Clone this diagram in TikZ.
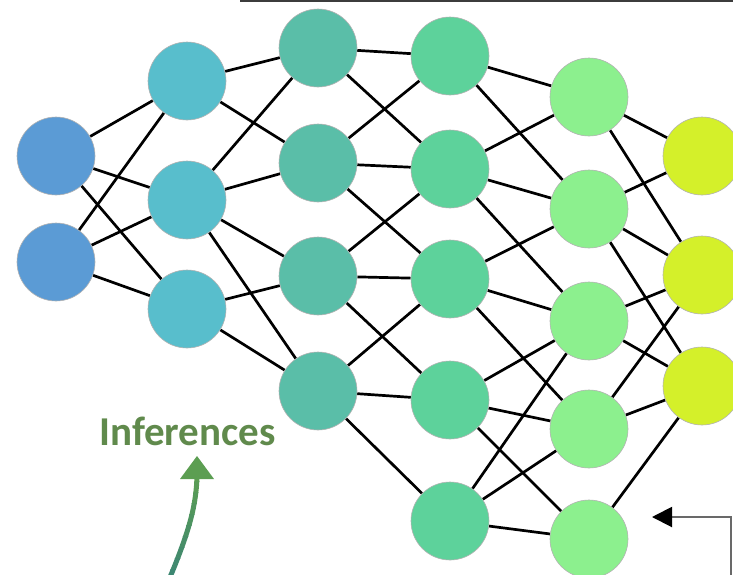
\documentclass[tikz,border=0pt]{standalone}
\usepackage{fontspec}
\setmainfont{Carlito}
\usetikzlibrary{arrows.meta}

% layer fill colours
\definecolor{layA}{RGB}{91,155,213}
\definecolor{layB}{RGB}{88,190,204}
\definecolor{layC}{RGB}{90,190,168}
\definecolor{layD}{RGB}{93,210,155}
\definecolor{layE}{RGB}{140,240,142}
\definecolor{layF}{RGB}{212,240,42}
\definecolor{infGreen}{RGB}{96,138,76}
\definecolor{arrTop}{RGB}{92,158,82}
\definecolor{arrBot}{RGB}{58,132,118}
\definecolor{frameGray}{RGB}{105,105,105}
\definecolor{rule}{RGB}{60,60,60}

\pgfdeclarelayer{bg}
\pgfsetlayers{bg,main}

\begin{document}
\begin{tikzpicture}[x=1pt,y=-1pt,
  neuron/.style={circle, minimum size=78pt, inner sep=0pt, draw=black!30, line width=0.6pt},
  link/.style={line width=2.7pt, black},
]
\useasboundingbox (0,0) rectangle (733,574);
\clip (0,0) rectangle (733,574);

% input layer
\node[neuron, fill=layA] (a1) at (56,156) {};
\node[neuron, fill=layA] (a2) at (56,262) {};
% hidden layer 1
\node[neuron, fill=layB] (b1) at (187,81) {};
\node[neuron, fill=layB] (b2) at (187,200) {};
\node[neuron, fill=layB] (b3) at (187,309) {};
% hidden layer 2
\node[neuron, fill=layC] (c1) at (318,48) {};
\node[neuron, fill=layC] (c2) at (318,163) {};
\node[neuron, fill=layC] (c3) at (318,276) {};
\node[neuron, fill=layC] (c4) at (318,391) {};
% hidden layer 3
\node[neuron, fill=layD] (d1) at (450,56) {};
\node[neuron, fill=layD] (d2) at (450,169) {};
\node[neuron, fill=layD] (d3) at (450,279) {};
\node[neuron, fill=layD] (d4) at (450,400) {};
\node[neuron, fill=layD] (d5) at (450,521) {};
% hidden layer 4
\node[neuron, fill=layE] (e1) at (589,97) {};
\node[neuron, fill=layE] (e2) at (589,209) {};
\node[neuron, fill=layE] (e3) at (589,321) {};
\node[neuron, fill=layE] (e4) at (589,429) {};
\node[neuron, fill=layE] (e5) at (589,539) {};
% output layer
\node[neuron, fill=layF] (f1) at (702,156) {};
\node[neuron, fill=layF] (f2) at (702,275) {};
\node[neuron, fill=layF] (f3) at (702,386) {};

% connections
\begin{pgfonlayer}{bg}
\foreach \s/\t in {a1/b1,a1/b2,a1/b3,a2/b1,a2/b2,a2/b3,
  b1/c1,b1/c2,b2/c1,b2/c2,b2/c3,b2/c4,b3/c3,b3/c4,
  c1/d1,c1/d2,c2/d1,c2/d2,c2/d3,c3/d2,c3/d3,c3/d4,c4/d3,c4/d4,c4/d5,
  d1/e1,d1/e2,d2/e1,d2/e2,d2/e3,d3/e2,d3/e3,d3/e4,d4/e3,d4/e4,d4/e5,d5/e3,d5/e4,d5/e5,
  e1/f1,e1/f2,e2/f1,e2/f2,e2/f3,e3/f2,e3/f3,e4/f2,e4/f3,e5/f3}
  \draw[link] (\s) -- (\t);
\end{pgfonlayer}

% rule along the top edge
\coordinate (ruleL) at (240,1.2);
\coordinate (ruleR) at (740,1.2);
\draw[rule, line width=2.4pt] (ruleL) -- (ruleR);

% label with its curved arrow
\node[text=infGreen, font=\bfseries\fontsize{41}{41}\selectfont, anchor=base, inner sep=0pt] (inf) at (187.5,445) {Inferences};
\coordinate (shaftS) at (168,582);
\coordinate (shaftC1) at (190,530);
\coordinate (shaftC2) at (196,505);
\coordinate (shaftE) at (197,477);
\coordinate (headL) at (180,479);
\coordinate (headR) at (214,479);
\coordinate (headT) at (197,456);
\foreach \i in {0,...,9}{
  \pgfmathsetmacro{\ya}{470+\i*11}
  \pgfmathsetmacro{\yb}{\ya+11.6}
  \pgfmathtruncatemacro{\p}{100-\i*10}
  \begin{scope}
    \clip (140,\ya) rectangle (240,\yb);
    \draw[color=arrTop!\p!arrBot, line width=5pt] (shaftS) .. controls (shaftC1) and (shaftC2) .. (shaftE);
  \end{scope}
}
\fill[arrTop] (headL) -- (headT) -- (headR) -- cycle;

% feedback arrow at the bottom right
\coordinate (fbS) at (731,580);
\coordinate (fbE) at (652,517);
\draw[frameGray, line width=2pt, -{Triangle[length=20pt,width=20pt,color=black]}] (fbS) |- (fbE);
\end{tikzpicture}
\end{document}
